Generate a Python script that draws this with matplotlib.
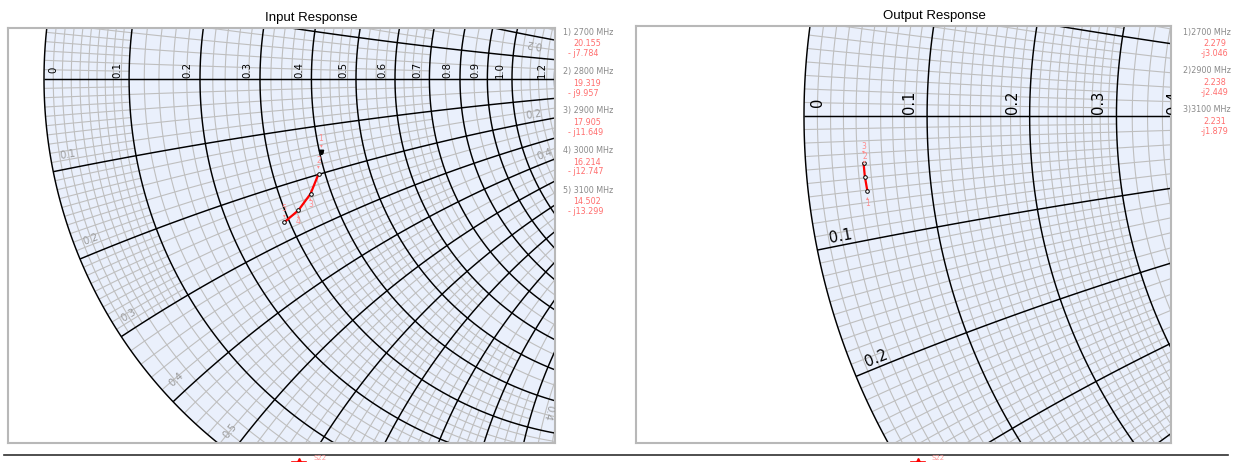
import numpy as np
import matplotlib
matplotlib.use('Agg')
import matplotlib.pyplot as plt
from matplotlib.collections import LineCollection
from matplotlib.patches import Circle
from matplotlib.lines import Line2D

W, H = 1233, 462

# ---------------- data ----------------
Z0 = 50.0
in_freqs = [2700, 2800, 2900, 3000, 3100]
in_re = [20.155, 19.319, 17.905, 16.214, 14.502]
in_im = [-7.784, -9.957, -11.649, -12.747, -13.299]

out_freqs = [2700, 2900, 3100]
out_re = [2.279, 2.238, 2.231]
out_im = [-3.046, -2.449, -1.879]

r_major = [0, 0.1, 0.2, 0.3, 0.4, 0.5, 0.6, 0.7, 0.8, 0.9, 1.0,
           1.2, 1.4, 1.6, 1.8, 2.0, 3.0, 4.0, 5.0, 10.0, 20.0, 50.0]
x_major = [0.1, 0.2, 0.3, 0.4, 0.5, 0.6, 0.7, 0.8, 0.9, 1.0,
           1.2, 1.4, 1.6, 1.8, 2.0, 3.0, 4.0, 5.0, 10.0, 20.0, 50.0]
r_axis_labels = [0, 0.1, 0.2, 0.3, 0.4, 0.5, 0.6, 0.7, 0.8, 0.9, 1.0, 1.2, 1.4, 1.6]
x_outer_labels = [0.1, 0.2, 0.3, 0.4, 0.5, 0.6]
x_r1_labels = [0.2, 0.4, 0.6, 0.8, 1.0]
r_x1_labels = [0.2, 0.4, 0.6, 0.8]

BG = '#eaf0fc'
MINOR = '#bfbfbf'
PINK = '#ff8c8c'


def gam(z):
    return (z - 1) / (z + 1)


def fmt(v):
    return '0' if v == 0 else f'{v:.1f}'


def nsub(d, thr=8.0):
    for n in (10, 5, 4, 2):
        if d / n >= thr:
            return n
    return 1


def make_axes(fig, box, center, R):
    x0, y0, x1, y1 = box
    cx, cy = center
    ax = fig.add_axes([x0 / W, 1 - y1 / H, (x1 - x0) / W, (y1 - y0) / H])
    ax.set_xlim((x0 - cx) / R, (x1 - cx) / R)
    ax.set_ylim((cy - y1) / R, (cy - y0) / R)
    ax.set_xticks([])
    ax.set_yticks([])
    for s in ax.spines.values():
        s.set_color('#b8b8b8')
        s.set_linewidth(1.5)
    ax.set_facecolor('white')
    return ax


def put_text(ax, x, y, s, margin=0.012, **kw):
    xl, yl = ax.get_xlim(), ax.get_ylim()
    if xl[0] - margin <= x <= xl[1] + margin and yl[0] - margin <= y <= yl[1] + margin:
        ax.text(x, y, s, clip_on=True, **kw)


def draw_grid(ax, R, gray_x_labels, ang_off):
    xl = ax.get_xlim()
    yl = ax.get_ylim()
    pad = 0.05
    ax.add_patch(Circle((0, 0), 1, fc=BG, ec='none', zorder=0))

    def visible(pts):
        return np.any((pts.real > xl[0] - pad) & (pts.real < xl[1] + pad) &
                      (pts.imag > yl[0] - pad) & (pts.imag < yl[1] + pad))

    # minor adaptive grid (each major cell subdivided on its own)
    xe = sorted([-v for v in x_major] + [0.0] + x_major)
    segs = []
    for ra, rb in zip(r_major[:-1], r_major[1:]):
        for xa, xb in zip(xe[:-1], xe[1:]):
            rr, xx = np.meshgrid(np.linspace(ra, rb, 6), np.linspace(xa, xb, 6))
            if not visible(gam(rr + 1j * xx)):
                continue
            rm, xm = (ra + rb) / 2, (xa + xb) / 2
            dr = abs(gam(rb + 1j * xm) - gam(ra + 1j * xm)) * R
            dx = abs(gam(rm + 1j * xb) - gam(rm + 1j * xa)) * R
            nr, nx = nsub(dr), nsub(dx)
            xs = np.linspace(xa, xb, 30)
            for k in range(1, nr):
                r = ra + k * (rb - ra) / nr
                p = gam(r + 1j * xs)
                segs.append(np.column_stack([p.real, p.imag]))
            rs = np.linspace(ra, rb, 30)
            for k in range(1, nx):
                x = xa + k * (xb - xa) / nx
                p = gam(rs + 1j * x)
                segs.append(np.column_stack([p.real, p.imag]))
    ax.add_collection(LineCollection(segs, colors=MINOR, linewidths=0.8, zorder=1))

    # major grid
    maj = []
    th = np.linspace(0, 2 * np.pi, 3000)
    for r in r_major:
        c, rad = r / (1 + r), 1 / (1 + r)
        maj.append(np.column_stack([c + rad * np.cos(th), rad * np.sin(th)]))
    rs = np.concatenate([np.linspace(0, 5, 2000), np.geomspace(5, 1e6, 600)])
    for x in x_major:
        for s in (1, -1):
            p = gam(rs + 1j * s * x)
            maj.append(np.column_stack([p.real, p.imag]))
    maj.append(np.array([[-1, 0], [1, 0]]))
    ax.add_collection(LineCollection(maj, colors='black', linewidths=1.05, zorder=2))

    fs = 7.3 * R / 468.0
    # resistance labels on real axis
    for r in r_axis_labels:
        c = (r - 1) / (r + 1)
        dx = 0.02 if r == 0 else -0.026
        put_text(ax, c + dx, 0.02, fmt(r), rotation=90, ha='center', va='center',
                 fontsize=fs, color='black', zorder=4)
    # reactance labels along outer circle
    xcol = '#9a9a9a' if gray_x_labels else 'black'
    for x in x_outer_labels:
        for s in (1, -1):
            g = gam(1j * s * x)
            phi = np.degrees(np.angle(g))
            phi2 = phi + ang_off * np.sign(phi)
            p = 0.963 * np.exp(1j * np.radians(phi2))
            rot = phi2 + 180 if phi2 < 0 else phi2
            put_text(ax, p.real, p.imag, fmt(x), rotation=rot, ha='center',
                     va='center', fontsize=fs, color=xcol, zorder=4,
                     rotation_mode='anchor')
    # reactance labels along r = 1 circle
    for x in x_r1_labels:
        for s in (1, -1):
            g = gam(1 + 1j * s * x) - 0.5
            psi = np.degrees(np.angle(g))
            psi2 = psi + 2.0 * np.sign(psi)
            p = 0.5 + 0.46 * np.exp(1j * np.radians(psi2))
            rot = psi2 + 180 if psi2 < 0 else psi2
            put_text(ax, p.real, p.imag, fmt(x), rotation=rot, ha='center',
                     va='center', fontsize=fs, color='#9a9a9a', zorder=4,
                     rotation_mode='anchor')
    # resistance labels along x = -1 arc
    for r in r_x1_labels:
        g = gam(r - 1j)
        put_text(ax, g.real + 0.0235, g.imag - 0.036, fmt(r), rotation=-105,
                 ha='center', va='center', fontsize=fs, color='#9a9a9a',
                 zorder=4, rotation_mode='anchor')


def draw_trace(ax, re, im, line_from, offsets, first_black=False):
    z = (np.array(re) + 1j * np.array(im)) / Z0
    g = gam(z)
    ax.plot(g.real[line_from:], g.imag[line_from:], color='red', lw=1.6,
            zorder=5, solid_capstyle='butt')
    ax.plot(g.real, g.imag, ls='none', marker='o', ms=2.6, mfc='white',
            mec='black', mew=0.7, zorder=6)
    if first_black:
        ax.plot(g.real[:1], g.imag[:1], ls='none', marker='v', ms=3.2,
                mfc='black', mec='black', zorder=7)
    for i, (dy_lab, dy_arr) in enumerate(offsets):
        ax.annotate(str(i + 1), (g.real[i], g.imag[i]), xytext=(0, dy_lab),
                    textcoords='offset pixels', ha='center', va='center',
                    fontsize=5.5, color=PINK, zorder=8)
        ax.annotate('\u25be' if dy_arr > 0 else '\u25b4', (g.real[i], g.imag[i]),
                    xytext=(0, dy_arr), textcoords='offset pixels', ha='center',
                    va='center', fontsize=4, color=PINK, zorder=8)


fig = plt.figure(figsize=(W / 100, H / 100), dpi=100)
fig.patch.set_facecolor('white')

# ----- left chart -----
axL = make_axes(fig, (8, 28, 555, 443), (512, 79), 468)
draw_grid(axL, 468, True, 1.8)
draw_trace(axL, in_re, in_im, 1,
           [(14, 7), (14, 7), (-11, -5), (-11, -5), (14, 7)], first_black=True)

# ----- right chart -----
axR = make_axes(fig, (636, 26, 1171, 443), (1481, 116), 677)
draw_grid(axR, 677, False, 0.8)
draw_trace(axR, out_re, out_im, 0, [(-12, -6), (20, 15), (16, 11)])


def fx(x):
    return x / W


def fy(y):
    return 1 - y / H


TFONT = ['Liberation Sans', 'DejaVu Sans']
fig.text(fx(311.5), fy(17.5), 'Input Response', ha='center', va='center',
         fontsize=9.5, family=TFONT)
fig.text(fx(934.5), fy(15.5), 'Output Response', ha='center', va='center',
         fontsize=9.5, family=TFONT)

# marker readouts
LFS = 5.8
for i, (f, a, b) in enumerate(zip(in_freqs, in_re, in_im)):
    y = 32 + 39.5 * i
    fig.text(fx(563), fy(y), f'{i + 1}) {f} MHz', fontsize=LFS, color='#8a8a8a',
             ha='left', va='center')
    fig.text(fx(573), fy(y + 12), f'{a:.3f}', fontsize=LFS, color='#ff6e6e',
             ha='left', va='center')
    fig.text(fx(568), fy(y + 21.5), f'- j{abs(b):.3f}', fontsize=LFS,
             color='#ff6e6e', ha='left', va='center')
for i, (f, a, b) in enumerate(zip(out_freqs, out_re, out_im)):
    y = 32 + 38.8 * i
    fig.text(fx(1183), fy(y), f'{i + 1}){f} MHz', fontsize=LFS, color='#8a8a8a',
             ha='left', va='center')
    fig.text(fx(1203), fy(y + 11.5), f'{a:.3f}', fontsize=LFS, color='#ff6e6e',
             ha='left', va='center')
    fig.text(fx(1201), fy(y + 21.5), f'-j{abs(b):.3f}', fontsize=LFS,
             color='#ff6e6e', ha='left', va='center')

# bottom legend strip
fig.add_artist(Line2D([fx(4), fx(1228)], [fy(454.5), fy(454.5)], color='#303030',
                      lw=1.2))
for mx in (299, 918):
    fig.add_artist(Line2D([fx(mx - 7), fx(mx + 7)], [fy(461.5), fy(461.5)],
                          color='red', lw=1.2))
    fig.add_artist(Line2D([fx(mx)], [fy(462)], marker='^', ms=6, color='red',
                          ls='none'))
    fig.text(fx(mx + 14), fy(455.5), 'S22', fontsize=5, color='#ff9a9a',
             ha='left', va='top')

fig.savefig('out.png', dpi=100, facecolor='white')
